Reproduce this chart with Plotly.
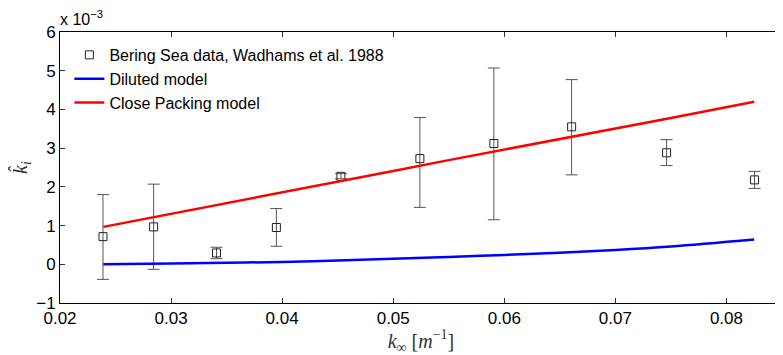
import plotly.graph_objects as go

# Data (k_hat values in units of 1e-3)
data_x = [0.02387, 0.02843, 0.03409, 0.03948, 0.04529, 0.0524, 0.05906, 0.06606, 0.07461, 0.08253]
data_y = [0.715, 0.966, 0.293, 0.95, 2.27, 2.73, 3.12, 3.55, 2.88, 2.18]
err_hi = [1.80, 2.07, 0.44, 1.44, 2.34, 3.79, 5.07, 4.77, 3.22, 2.40]
err_lo = [-0.39, -0.13, 0.145, 0.466, 2.21, 1.47, 1.15, 2.31, 2.55, 1.96]

model_x = [0.0239, 0.03, 0.035, 0.04, 0.045, 0.05, 0.055, 0.06, 0.065, 0.07, 0.075, 0.0825]
diluted = [0.0, 0.02, 0.04, 0.06, 0.10, 0.14, 0.19, 0.24, 0.30, 0.37, 0.46, 0.64]
close_packing = [0.966, 1.30, 1.58, 1.86, 2.13, 2.41, 2.69, 2.96, 3.24, 3.51, 3.78, 4.20]

x_ticks = [0.02, 0.03, 0.04, 0.05, 0.06, 0.07, 0.08]
y_ticks = [-1, 0, 1, 2, 3, 4, 5, 6]

plus = [h - y for h, y in zip(err_hi, data_y)]
minus = [y - l for y, l in zip(data_y, err_lo)]

fig = go.Figure()
fig.add_trace(go.Scatter(
    x=data_x, y=data_y, mode="markers",
    name="Bering Sea data, Wadhams et al. 1988",
    marker=dict(symbol="square-open", size=8, color="#222", line=dict(width=1)),
    error_y=dict(type="data", symmetric=False, array=plus, arrayminus=minus,
                 color="#555", thickness=1, width=6),
))
fig.add_trace(go.Scatter(x=model_x, y=diluted, mode="lines", name="Diluted model",
                         line=dict(color="#0000ff", width=2.5, shape="spline")))
fig.add_trace(go.Scatter(x=model_x, y=close_packing, mode="lines", name="Close Packing model",
                         line=dict(color="#ff0000", width=2.5)))

axis_common = dict(showline=True, linecolor="black", linewidth=1, mirror="ticks",
                   ticks="inside", ticklen=5, tickcolor="#333", showgrid=False,
                   zeroline=False, automargin=False,
                   tickfont=dict(family="Liberation Sans", size=17, color="black"))

# page body has an 8px default margin, so the figure is sized/margined to compensate
fig.update_layout(
    width=775, height=347,
    margin=dict(l=52, r=1, t=24, b=52),
    plot_bgcolor="white", paper_bgcolor="white",
    xaxis=dict(range=[0.02, 0.085], tickvals=x_ticks, ticktext=[f"{v:.2f}" for v in x_ticks],
               title=dict(text="<i>k</i><sub>∞</sub> [<i>m</i><sup>−1</sup>]",
                          font=dict(family="Liberation Serif", size=20, color="#333"), standoff=4),
               **axis_common),
    yaxis=dict(range=[-1, 6], tickvals=y_ticks, ticktext=[("−1" if v == -1 else str(v)) for v in y_ticks],
               title=dict(text="<i>k̂<sub>i</sub></i>",
                          font=dict(family="Liberation Serif", size=20, color="#333"), standoff=8),
               **axis_common),
    legend=dict(x=0.013, y=0.978, xanchor="left", yanchor="top", bgcolor="rgba(0,0,0,0)",
                font=dict(family="Liberation Sans", size=16, color="black"), tracegroupgap=0),
    showlegend=True,
    annotations=[dict(text="x 10<sup>−3</sup>", x=0, y=1, xref="paper", yref="paper",
                      xanchor="left", yanchor="bottom", showarrow=False, xshift=-2, yshift=2,
                      font=dict(family="Liberation Sans", size=16, color="black"))],
)

fig.write_html("out.html")
